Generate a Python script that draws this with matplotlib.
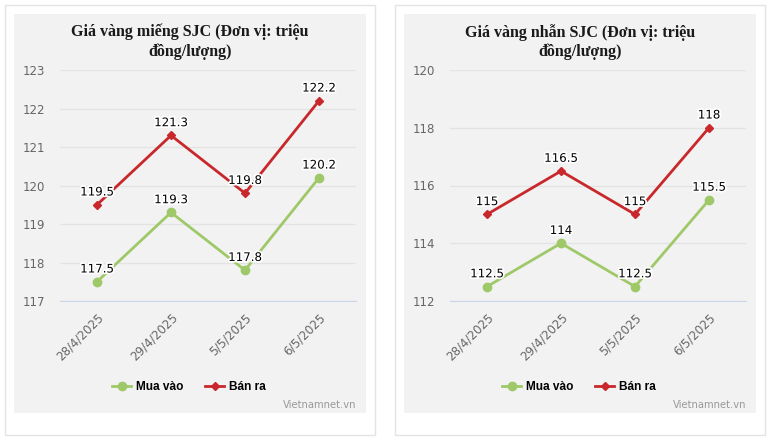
import numpy as np
import matplotlib
matplotlib.use('Agg')
import matplotlib.pyplot as plt
import matplotlib.patheffects as pe
from matplotlib.patches import Rectangle
from matplotlib.lines import Line2D

# data
dates = ['28/4/2025', '29/4/2025', '5/5/2025', '6/5/2025']
mieng_mua = [117.5, 119.3, 117.8, 120.2]
mieng_ban = [119.5, 121.3, 119.8, 122.2]
nhan_mua = [112.5, 114, 112.5, 115.5]
nhan_ban = [115, 116.5, 115, 118]
mieng_ticks = [117, 118, 119, 120, 121, 122, 123]
nhan_ticks = [112, 114, 116, 118, 120]
titles = ['Giá vàng miếng SJC (Đơn vị: triệu\nđồng/lượng)',
          'Giá vàng nhẫn SJC (Đơn vị: triệu\nđồng/lượng)']
legend_names = ['Mua vào', 'Bán ra']

GREEN = '#9fc969'
RED = '#c8282b'
W, H = 771, 446

fig = plt.figure(figsize=(W / 100, H / 100), dpi=100)
fig.patch.set_facecolor('white')


def fx(px):
    return px / W


def fy(py):
    return 1 - py / H


def fmt(v):
    return ('%g' % v)


def panel(x0, mua, ban, ticks, title):
    # white card with light border, grey inner panel
    fig.patches.append(Rectangle((fx(x0 - 9), fy(435)), fx(370), 430 / H,
                                 transform=fig.transFigure, facecolor='white',
                                 edgecolor='#e4e4e4', lw=1, zorder=-2))
    fig.patches.append(Rectangle((fx(x0), fy(413)), fx(352), 399 / H,
                                 transform=fig.transFigure, facecolor='#f2f2f2',
                                 edgecolor='none', zorder=-1))
    ax = fig.add_axes([fx(x0 + 46), fy(301), fx(296), 231 / H])
    ax.set_zorder(2)
    ax.set_facecolor('none')
    x = np.arange(len(dates))
    ax.plot(x, mua, color=GREEN, lw=2, marker='o', ms=6, zorder=3, clip_on=False)
    ax.plot(x, ban, color=RED, lw=2, marker='D', ms=4.2, zorder=3, clip_on=False)
    for xs, ys in [(x, mua), (x, ban)]:
        for xi, yi in zip(xs, ys):
            ax.annotate(fmt(yi), (xi, yi), xytext=(0, 4.5), textcoords='offset points',
                        ha='center', va='bottom', fontsize=8.5, color='black',
                        path_effects=[pe.withStroke(linewidth=2.5, foreground='white')],
                        zorder=5)
    ax.set_xlim(-0.5, len(dates) - 0.5)
    ax.set_ylim(ticks[0], ticks[-1])
    ax.set_yticks(ticks)
    ax.set_yticklabels([str(t) for t in ticks], fontsize=8.5, color='#666666')
    ax.set_xticks(x)
    ax.set_xticklabels(dates, rotation=45, ha='right', rotation_mode='anchor',
                       fontsize=8.6, color='#666666')
    ax.tick_params(axis='both', length=0)
    ax.tick_params(axis='y', pad=10.5)
    ax.tick_params(axis='x', pad=7)
    ax.grid(axis='y', color='#e3e3e3', lw=1)
    for s in ['top', 'right', 'left']:
        ax.spines[s].set_visible(False)
    ax.spines['bottom'].set_color('#ccd6eb')
    ax.set_axisbelow(True)

    fig.text(fx(x0 + 176), fy(42), title, ha='center', va='center',
             family='Liberation Serif', weight='bold', fontsize=11.5,
             color='#1a1a1a', linespacing=1.25)

    handles = [Line2D([], [], color=GREEN, lw=2, marker='o', ms=6),
               Line2D([], [], color=RED, lw=2, marker='D', ms=4)]
    fig.legend(handles, legend_names, loc='center', ncol=2, frameon=False,
               bbox_to_anchor=(fx(x0 + 175), fy(387)),
               prop={'family': 'Liberation Sans', 'size': 8.6, 'weight': 'bold'},
               handlelength=1.6, columnspacing=1.8, handletextpad=0.4)

    fig.text(fx(x0 + 342), fy(405), 'Vietnamnet.vn', ha='right', va='center',
             fontsize=7.2, color='#999999')


panel(14, mieng_mua, mieng_ban, mieng_ticks, titles[0])
panel(404, nhan_mua, nhan_ban, nhan_ticks, titles[1])

fig.savefig('out.png', dpi=100)
